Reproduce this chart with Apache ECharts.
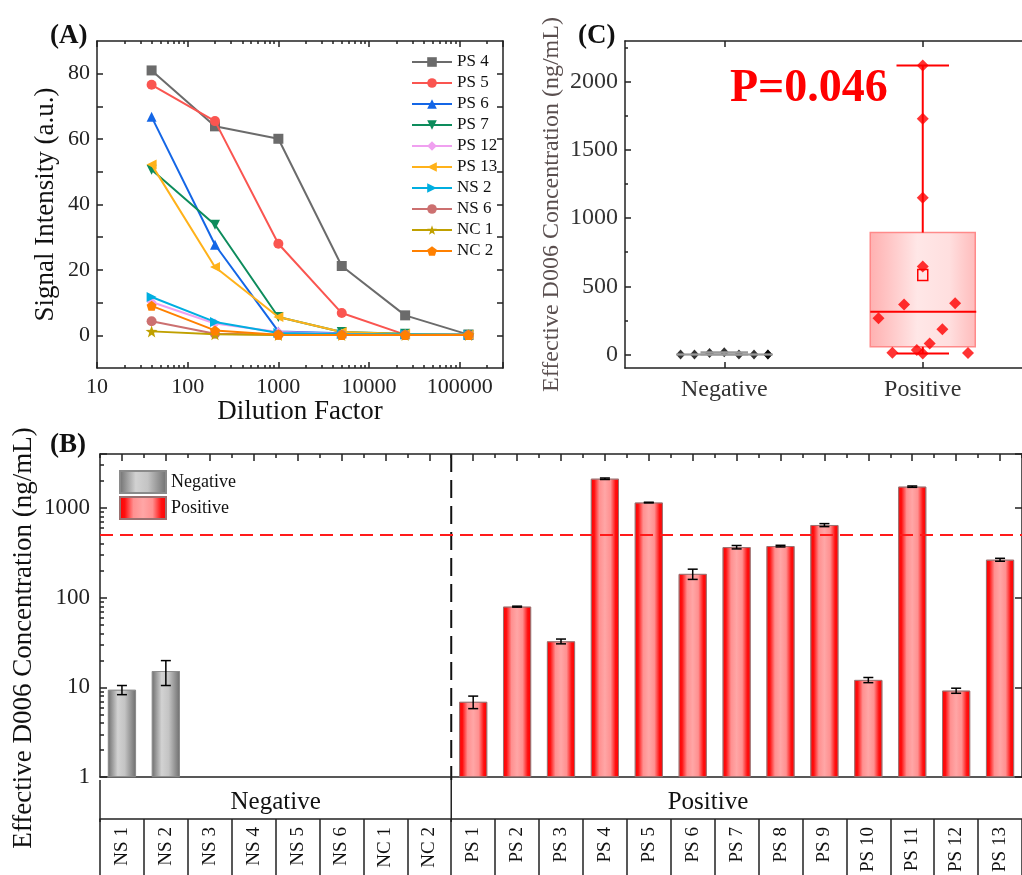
<!DOCTYPE html>
<html><head><meta charset="utf-8">
<script src="https://cdn.jsdelivr.net/npm/echarts@6/dist/echarts.min.js"></script>
<style>html,body{margin:0;padding:0;background:#fff}#c{width:1022px;height:875px}</style>
</head><body><div id="c"></div>
<script>
// ---------------- DATA ----------------
// Panel A: dilution curves
const dilutions = [40, 200, 1000, 5000, 25000, 125000];
const curveNames = ['PS 4', 'PS 5', 'PS 6', 'PS 7', 'PS 12', 'PS 13', 'NS 2', 'NS 6', 'NC 1', 'NC 2'];
const ps4 = [81.0, 63.9, 60.1, 21.2, 6.1, 0.2];
const ps5 = [76.6, 65.5, 28.0, 6.8, 0.2, 0.1];
const ps6 = [66.8, 27.7, 1.2, 0.6, 0.3, 0.2];
const ps7 = [50.6, 33.8, 5.6, 1.0, 0.5, 0.2];
const ps12 = [10.2, 3.6, 1.0, 0.5, 0.3, 0.2];
const ps13 = [52.2, 20.9, 5.6, 1.0, 0.4, 0.2];
const ns2 = [11.7, 4.1, 0.7, 0.4, 0.3, 0.2];
const ns6 = [4.3, 0.5, 0.2, 0.1, 0.1, 0.1];
const nc1 = [1.2, 0.3, 0.1, 0.1, 0.1, 0.1];
const nc2 = [9.0, 1.5, 0.2, 0.1, 0.1, 0.1];
const curves = [ps4, ps5, ps6, ps7, ps12, ps13, ns2, ns6, nc1, nc2];

// Panel B: effective concentrations (ng/mL) with SD
const groupNames = ['Negative', 'Positive'];
const negNames = ['NS 1', 'NS 2', 'NS 3', 'NS 4', 'NS 5', 'NS 6', 'NC 1', 'NC 2'];
const negConc = [9.4, 15.2, 0, 0, 0, 0, 0, 0];
const negErr = [1.1, 4.7, 0, 0, 0, 0, 0, 0];
const posNames = ['PS 1', 'PS 2', 'PS 3', 'PS 4', 'PS 5', 'PS 6', 'PS 7', 'PS 8', 'PS 9', 'PS 10', 'PS 11', 'PS 12', 'PS 13'];
const posConc = [6.9, 79.5, 32.6, 2120, 1150, 184, 366, 376, 645, 12.1, 1730, 9.2, 265];
const posErr = [1.1, 1.0, 2.0, 40, 10, 24, 16, 8, 25, 0.8, 30, 0.6, 10];
const cutoff = 500;

// Panel C: box statistics [min, Q1, median, Q3, max, mean] and point jitter (category units)
const negBox = [0, 0, 0, 0, 15, null];
const posBox = [7, 56, 312, 894, 2120, 582];
const negJitter = [-0.074, 0, -0.22, -0.15, 0.074, 0.15, 0.22, 0.22];
const posJitter = [0, 0.035, -0.03, 0, 0, 0.099, -0.094, 0.163, 0, -0.153, 0, 0.228, -0.223];
const pValueText = 'P=0.046';
const titleA_y = 'Signal Intensity (a.u.)';
const titleA_x = 'Dilution Factor';
const titleConc = 'Effective D006 Concentration (ng/mL)';

// ---------------- STYLE ----------------
const SERIF = '"Liberation Serif","Times New Roman",serif';
const AX = '#222';
const curveColors = ['#6b6b6b', '#fa5550', '#1466e6', '#0d8c5c', '#f0a0f0', '#ffb21a', '#00aee0', '#cc7070', '#c0a000', '#ff8000'];
const STAR = 'path://M0,-10 L2.35,-3.24 9.51,-3.09 3.8,1.24 5.88,8.09 0,4 -5.88,8.09 -3.8,1.24 -9.51,-3.09 -2.35,-3.24Z';
const PENT = 'path://M0,-10 L9.51,-3.09 5.88,8.09 -5.88,8.09 -9.51,-3.09Z';
const curveSymbols = ['rect', 'circle', 'triangle', 'triangle', 'diamond', 'triangle', 'triangle', 'circle', STAR, PENT];
const curveRot = [0, 0, 0, 180, 0, 90, -90, 0, 0, 0];

function isPow10(v) { const l = Math.log10(v); return Math.abs(l - Math.round(l)) < 1e-6; }
function pow10Label(v) { return isPow10(v) ? String(Math.round(v)) : ''; }
function plain(v) { return String(v); }
function minorLog(d0, d1, maxLog) {
  const out = [];
  for (let d = d0; d < d1; d++) for (let k = 2; k <= 9; k++) { const v = d + Math.log10(k); if (v <= maxLog + 1e-9) out.push(v); }
  return out;
}
const lineSt = { color: AX, width: 1.5 };
const noLabel = { show: false };
const noSplit = { show: false };

const samples = negNames.concat(posNames);
const grayGrad = new echarts.graphic.LinearGradient(0, 0, 1, 0, [
  { offset: 0, color: '#6e6e6e' }, { offset: 0.35, color: '#d2d2d2' }, { offset: 0.6, color: '#c4c4c4' }, { offset: 1, color: '#6e6e6e' }]);
const redGrad = new echarts.graphic.LinearGradient(0, 0, 1, 0, [
  { offset: 0, color: '#ff0000' }, { offset: 0.12, color: '#ff1010' }, { offset: 0.3, color: '#ff9090' },
  { offset: 0.5, color: '#ffa6a6' }, { offset: 0.7, color: '#ff9090' }, { offset: 0.88, color: '#ff1010' }, { offset: 1, color: '#ff0000' }]);

const A_MAX = 3e5, B_MAX = 4000;

const xAxes = [
  // 0: A bottom log
  { type: 'log', logBase: 10, gridIndex: 0, min: 10, max: A_MAX, position: 'bottom',
    axisLine: { show: true, onZero: false, lineStyle: lineSt },
    axisTick: { show: true, inside: true, length: 6, lineStyle: lineSt },
    axisLabel: { formatter: pow10Label, fontFamily: SERIF, fontSize: 22, color: AX, margin: 8 },
    splitLine: noSplit, minorTick: { show: false },
    name: titleA_x, nameLocation: 'middle', nameGap: 27,
    nameTextStyle: { fontFamily: SERIF, fontSize: 27, color: '#111' } },
  // 1: A top log
  { type: 'log', logBase: 10, gridIndex: 0, min: 10, max: A_MAX, position: 'top',
    axisLine: { show: true, onZero: false, lineStyle: lineSt },
    axisTick: { show: true, inside: true, length: 6, lineStyle: lineSt }, axisLabel: noLabel, splitLine: noSplit },
  // 2: A bottom minor (log space)
  { type: 'value', gridIndex: 0, min: 1, max: Math.log10(A_MAX), position: 'bottom',
    axisLine: { show: false, onZero: false }, axisTick: { show: true, inside: true, length: 3, customValues: minorLog(1, 6, Math.log10(A_MAX)), lineStyle: lineSt },
    axisLabel: noLabel, splitLine: noSplit },
  // 3: A top minor
  { type: 'value', gridIndex: 0, min: 1, max: Math.log10(A_MAX), position: 'top',
    axisLine: { show: false, onZero: false }, axisTick: { show: true, inside: true, length: 3, customValues: minorLog(1, 6, Math.log10(A_MAX)), lineStyle: lineSt },
    axisLabel: noLabel, splitLine: noSplit },
  // 4: B main category axis
  { type: 'category', gridIndex: 1, data: samples, position: 'bottom',
    axisLine: { show: true, onZero: false, lineStyle: lineSt }, axisTick: { show: false }, axisLabel: noLabel, splitLine: noSplit },
  // 5: B sample label row
  { type: 'category', gridIndex: 1, data: samples, position: 'bottom', offset: 42,
    axisLine: { show: true, onZero: false, lineStyle: lineSt },
    axisTick: { show: true, length: 60, interval: 0, lineStyle: lineSt },
    axisLabel: { interval: 0, rotate: 90, fontFamily: SERIF, fontSize: 19, color: '#111', margin: 8 }, splitLine: noSplit },
  // 6: B top ticks at centres
  { type: 'category', gridIndex: 1, data: samples, position: 'top',
    axisLine: { show: true, onZero: false, lineStyle: lineSt },
    axisTick: { show: true, inside: true, alignWithLabel: true, interval: 0, length: 7, lineStyle: lineSt }, axisLabel: noLabel, splitLine: noSplit },
  // 7: B top ticks at boundaries
  { type: 'category', gridIndex: 1, data: samples, position: 'top',
    axisLine: { show: false, onZero: false },
    axisTick: { show: true, inside: true, interval: 0, length: 4, lineStyle: lineSt }, axisLabel: noLabel, splitLine: noSplit },
  // 8: C bottom
  { type: 'value', gridIndex: 2, min: 0.5, max: 2.5, position: 'bottom',
    axisLine: { show: true, onZero: false, lineStyle: lineSt },
    axisTick: { show: true, inside: true, length: 6, customValues: [1, 2], lineStyle: lineSt },
    axisLabel: { customValues: [1, 2], formatter: v => groupNames[Math.round(v) - 1], fontFamily: SERIF, fontSize: 24, color: '#333', margin: 10 },
    splitLine: noSplit },
  // 9: C top
  { type: 'value', gridIndex: 2, min: 0.5, max: 2.5, position: 'top',
    axisLine: { show: true, onZero: false, lineStyle: lineSt },
    axisTick: { show: true, inside: true, length: 6, customValues: [1, 2], lineStyle: lineSt }, axisLabel: noLabel, splitLine: noSplit }
];

const yAxes = [
  // 0: A left
  { type: 'value', gridIndex: 0, min: -10, max: 90, position: 'left',
    axisLine: { show: true, onZero: false, lineStyle: lineSt },
    axisTick: { show: true, inside: true, length: 6, customValues: [0, 10, 20, 30, 40, 50, 60, 70, 80], lineStyle: lineSt },
    axisLabel: { customValues: [0, 20, 40, 60, 80], formatter: plain, fontFamily: SERIF, fontSize: 22, color: AX, margin: 7 },
    splitLine: noSplit,
    name: titleA_y, nameLocation: 'middle', nameGap: 38,
    nameTextStyle: { fontFamily: SERIF, fontSize: 27, color: '#111' } },
  // 1: A right
  { type: 'value', gridIndex: 0, min: -10, max: 90, position: 'right',
    axisLine: { show: true, onZero: false, lineStyle: lineSt },
    axisTick: { show: true, inside: true, length: 6, customValues: [0, 10, 20, 30, 40, 50, 60, 70, 80], lineStyle: lineSt },
    axisLabel: noLabel, splitLine: noSplit },
  // 2: B left log
  { type: 'log', logBase: 10, gridIndex: 1, min: 1, max: B_MAX, position: 'left',
    axisLine: { show: true, onZero: false, lineStyle: lineSt },
    axisTick: { show: true, inside: true, length: 7, lineStyle: lineSt },
    axisLabel: { formatter: pow10Label, fontFamily: SERIF, fontSize: 23, color: AX, margin: 10 },
    splitLine: noSplit },
  // 3: B left minor (log space)
  { type: 'value', gridIndex: 1, min: 0, max: Math.log10(B_MAX), position: 'left',
    axisLine: { show: false, onZero: false },
    axisTick: { show: true, inside: true, length: 4, customValues: minorLog(0, 4, Math.log10(B_MAX)), lineStyle: lineSt },
    axisLabel: noLabel, splitLine: noSplit },
  // 4: B right log
  { type: 'log', logBase: 10, gridIndex: 1, min: 1, max: B_MAX, position: 'right',
    axisLine: { show: true, onZero: false, lineStyle: lineSt },
    axisTick: { show: true, inside: true, length: 7, lineStyle: lineSt }, axisLabel: noLabel, splitLine: noSplit },
  // 5: C left
  { type: 'value', gridIndex: 2, min: -100, max: 2300, position: 'left',
    axisLine: { show: true, onZero: false, lineStyle: lineSt },
    axisTick: { show: true, inside: true, length: 6, customValues: [0, 500, 1000, 1500, 2000], lineStyle: lineSt },
    axisLabel: { customValues: [0, 500, 1000, 1500, 2000], formatter: plain, fontFamily: SERIF, fontSize: 24, color: '#333', margin: 7 },
    splitLine: noSplit,
    name: titleConc, nameLocation: 'middle', nameGap: 61,
    nameTextStyle: { fontFamily: SERIF, fontSize: 24, color: '#5a4f4f' } },
  // 6: C left minor
  { type: 'value', gridIndex: 2, min: -100, max: 2300, position: 'left',
    axisLine: { show: false, onZero: false },
    axisTick: { show: true, inside: true, length: 3, customValues: [250, 750, 1250, 1750, 2250], lineStyle: lineSt },
    axisLabel: noLabel, splitLine: noSplit }
];

// ---------- series ----------
const series = [];
curves.forEach((vals, i) => {
  series.push({
    type: 'line', name: curveNames[i], xAxisIndex: 0, yAxisIndex: 0,
    data: dilutions.map((d, j) => [d, vals[j]]),
    symbol: curveSymbols[i], symbolSize: i === 8 ? 12 : 10, symbolRotate: curveRot[i],
    lineStyle: { width: 2, color: curveColors[i] }, itemStyle: { color: curveColors[i] },
    z: 3 + i, animation: false
  });
});

const negBarData = samples.map((s, i) => (i < negConc.length && negConc[i] > 0) ? negConc[i] : '-');
const posBarData = samples.map((s, i) => { const j = i - negConc.length; return (j >= 0 && posConc[j] > 0) ? posConc[j] : '-'; });
series.push({
  type: 'bar', name: 'Negative', xAxisIndex: 4, yAxisIndex: 2, data: negBarData, barWidth: 28, barGap: '-100%',
  itemStyle: { color: grayGrad, borderColor: '#8a8a8a', borderWidth: 0.8 }, animation: false
});
series.push({
  type: 'bar', name: 'Positive', xAxisIndex: 4, yAxisIndex: 2, data: posBarData, barWidth: 28, barGap: '-100%',
  itemStyle: { color: redGrad, borderColor: '#9a7070', borderWidth: 0.8 }, animation: false,
  markLine: { silent: true, symbol: 'none', label: { show: false },
    lineStyle: { color: '#ff1a1a', type: [13, 7], width: 2 }, data: [{ yAxis: cutoff }] }
});
const errData = [];
negConc.forEach((v, i) => { if (v > 0 && negErr[i] > 0) errData.push([i, v, negErr[i]]); });
posConc.forEach((v, i) => { if (v > 0 && posErr[i] > 0) errData.push([i + negConc.length, v, posErr[i]]); });
series.push({
  type: 'custom', name: 'err', xAxisIndex: 4, yAxisIndex: 2, data: errData, z: 5, animation: false,
  renderItem(params, api) {
    const x = api.value(0), v = api.value(1), e = api.value(2);
    const t = api.coord([x, v + e]), b = api.coord([x, Math.max(v - e, 1e-6)]);
    const hw = 5, st = { stroke: '#000', lineWidth: 1.5 };
    return { type: 'group', children: [
      { type: 'line', shape: { x1: t[0], y1: t[1], x2: b[0], y2: b[1] }, style: st },
      { type: 'line', shape: { x1: t[0] - hw, y1: t[1], x2: t[0] + hw, y2: t[1] }, style: st },
      { type: 'line', shape: { x1: b[0] - hw, y1: b[1], x2: b[0] + hw, y2: b[1] }, style: st }
    ] };
  }
});

// Panel C
function boxRenderer(stroke, edge, fill, boxW) {
  return function (params, api) {
    const x = api.value(0);
    const mn = api.value(1), q1 = api.value(2), md = api.value(3), q3 = api.value(4), mx = api.value(5), mean = api.value(6);
    const cx = api.coord([x, md])[0];
    const Y = v => api.coord([x, v])[1];
    const hw = boxW / 2, cw = boxW / 4;
    const ch = [];
    ch.push({ type: 'rect', shape: { x: cx - hw, y: Y(q3), width: boxW, height: Math.max(Y(q1) - Y(q3), 0.01) },
      style: { fill: fill, stroke: edge, lineWidth: 1.5 } });
    const ls = { stroke: stroke, lineWidth: 2 };
    ch.push({ type: 'line', shape: { x1: cx, y1: Y(q3), x2: cx, y2: Y(mx) }, style: ls });
    ch.push({ type: 'line', shape: { x1: cx, y1: Y(q1), x2: cx, y2: Y(mn) }, style: ls });
    ch.push({ type: 'line', shape: { x1: cx - cw, y1: Y(mx), x2: cx + cw, y2: Y(mx) }, style: ls });
    ch.push({ type: 'line', shape: { x1: cx - cw, y1: Y(mn), x2: cx + cw, y2: Y(mn) }, style: ls });
    ch.push({ type: 'line', shape: { x1: cx - hw, y1: Y(md), x2: cx + hw + 1, y2: Y(md) }, style: { stroke: stroke, lineWidth: 2 } });
    if (!isNaN(mean)) {
      ch.push({ type: 'rect', shape: { x: cx - 5, y: Y(mean) - 5.5, width: 10, height: 11 },
        style: { fill: 'none', stroke: stroke, lineWidth: 1.5 } });
    }
    return { type: 'group', children: ch };
  };
}
const boxFill = new echarts.graphic.LinearGradient(0, 0, 1, 0, [
  { offset: 0, color: 'rgba(255,150,150,0.75)' }, { offset: 0.45, color: 'rgba(255,225,225,0.8)' },
  { offset: 0.75, color: 'rgba(255,215,215,0.8)' }, { offset: 1, color: 'rgba(255,165,165,0.75)' }]);
series.push({
  type: 'custom', name: 'boxPos', xAxisIndex: 8, yAxisIndex: 5, z: 1, animation: false,
  data: [[2].concat(posBox)], renderItem: boxRenderer('#ff0000', '#ff8a8a', boxFill, 105)
});
series.push({
  type: 'scatter', name: 'ptsNeg', xAxisIndex: 8, yAxisIndex: 5, z: 2, animation: false,
  symbol: 'diamond', symbolSize: [9, 10], itemStyle: { color: '#000' },
  data: negConc.map((v, i) => [1 + negJitter[i], v])
});
series.push({
  type: 'scatter', name: 'ptsPos', xAxisIndex: 8, yAxisIndex: 5, z: 2, animation: false,
  symbol: 'diamond', symbolSize: [12, 12], itemStyle: { color: '#ff0000' },
  data: posConc.map((v, i) => [2 + posJitter[i], v])
});
series.push({
  type: 'custom', name: 'boxNeg', xAxisIndex: 8, yAxisIndex: 5, z: 3, animation: false,
  data: [[1].concat(negBox.map(v => v === null ? NaN : v))], renderItem: boxRenderer('#9a9a9a', '#9a9a9a', 'none', 95)
});

const option = {
  animation: false,
  backgroundColor: '#fff',
  grid: [
    { left: 97, top: 41, width: 406, height: 327 },
    { left: 100, top: 454, width: 928, height: 326 },
    { left: 625, top: 41, width: 404, height: 327 }
  ],
  xAxis: xAxes,
  yAxis: yAxes,
  legend: [
    { data: curveNames, orient: 'vertical', left: 406, top: 48, itemWidth: 40, itemHeight: 12, itemGap: 3,
      textStyle: { fontFamily: SERIF, fontSize: 17, color: '#111', lineHeight: 18 }, selectedMode: false },
    { data: ['Negative', 'Positive'], orient: 'vertical', left: 114, top: 465, itemWidth: 46, itemHeight: 22, itemGap: 2,
      icon: 'rect', textStyle: { fontFamily: SERIF, fontSize: 18, color: '#111' }, selectedMode: false }
  ],
  series: series
};

const chart = echarts.init(document.getElementById('c'), null, { renderer: 'canvas' });
chart.setOption(option);

// Decorations positioned from the axes
const pxNC2 = chart.convertToPixel({ xAxisIndex: 4 }, negNames[negNames.length - 1]);
const pxPS1 = chart.convertToPixel({ xAxisIndex: 4 }, posNames[0]);
const pxNS1 = chart.convertToPixel({ xAxisIndex: 4 }, negNames[0]);
const band = pxPS1 - pxNC2;
const sepX = pxNC2 + band / 2;
const leftX = pxNS1 - band / 2;
const yTopB = 454, yBaseB = 780, yRow = 822;
const txt = (x, y, s, size, weight, color, align, rot) => ({
  type: 'text', x: x, y: y, silent: true, rotation: rot || 0,
  style: { text: s, fontFamily: SERIF, fontSize: size, fontWeight: weight || 'normal', fill: color || '#111',
    align: align || 'left', verticalAlign: 'middle' }
});
chart.setOption({
  graphic: [
    { type: 'line', silent: true, shape: { x1: sepX, y1: yTopB, x2: sepX, y2: yBaseB },
      style: { stroke: '#111', lineWidth: 2, lineDash: [18, 8] } },
    { type: 'line', silent: true, shape: { x1: sepX, y1: yBaseB, x2: sepX, y2: yRow }, style: { stroke: AX, lineWidth: 1.5 } },
    { type: 'line', silent: true, shape: { x1: leftX, y1: yBaseB, x2: leftX, y2: yRow }, style: { stroke: AX, lineWidth: 1.5 } },
    txt((pxNS1 + pxNC2) / 2, 802, groupNames[0], 25, 'normal', '#111', 'center'),
    txt(708, 802, groupNames[1], 25, 'normal', '#111', 'center'),
    txt(24, 638, titleConc, 27, 'normal', '#111', 'center', Math.PI / 2),
    txt(50, 36, '(A)', 27, 'bold', '#111'),
    txt(50, 445, '(B)', 27, 'bold', '#111'),
    txt(578, 36, '(C)', 27, 'bold', '#111'),
    txt(730, 89, pValueText, 46, 'bold', '#ff0000')
  ]
});
</script>
</body></html>
